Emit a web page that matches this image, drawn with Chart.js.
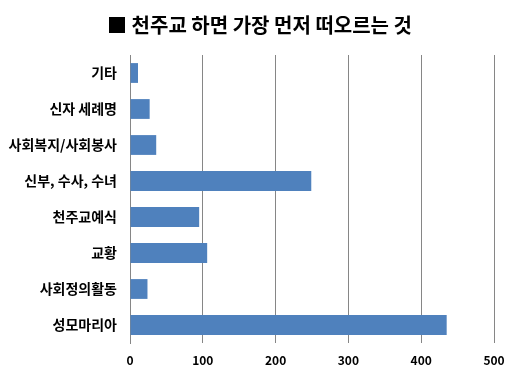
<!DOCTYPE html>
<html>
<head>
<meta charset="utf-8">
<script src="https://cdn.jsdelivr.net/npm/chart.js@4"></script>
<style>
  body { margin: 0; background: #fff; }
  #wrap { width: 519px; height: 377px; }
</style>
</head>
<body>
<div id="wrap"><canvas id="myChart" width="519" height="377"></canvas></div>
<script>
// data
const categories = ['기타', '신자 세례명', '사회복지/사회봉사', '신부, 수사, 수녀', '천주교예식', '교황', '사회정의활동', '성모마리아'];
const counts = [11, 27, 36, 249, 95, 106, 24, 435];
const xTicks = [0, 100, 200, 300, 400, 500];

const labelFont = { family: '"Noto Sans CJK KR", sans-serif', size: 14, weight: 'bold' };

const ctx = document.getElementById('myChart');

// title in the original sits centred on the whole picture, not on the padded area
const centreTitle = {
  id: 'centreTitle',
  afterLayout(chart) {
    if (chart.titleBlock) {
      chart.titleBlock.left = 0;
      chart.titleBlock.right = chart.width;
    }
  }
};

new Chart(ctx, {
  type: 'bar',
  data: {
    labels: categories,
    datasets: [{
      data: counts,
      backgroundColor: '#4F81BD',
      barPercentage: 0.55,
      categoryPercentage: 1
    }]
  },
  plugins: [centreTitle],
  options: {
    indexAxis: 'y',
    responsive: false,
    animation: false,
    layout: { padding: { left: 0, right: 25, top: 0, bottom: 0 } },
    plugins: {
      legend: { display: false },
      tooltip: { enabled: false },
      title: {
        display: true,
        text: '■ 천주교 하면 가장 먼저 떠오르는 것',
        color: '#000',
        font: { family: '"Noto Sans CJK KR", sans-serif', size: 20, weight: 'bold' },
        padding: { top: 13, bottom: 18 }
      }
    },
    scales: {
      x: {
        min: 0,
        max: 500,
        afterBuildTicks: (scale) => { scale.ticks = xTicks.map(v => ({ value: v })); },
        afterFit: (scale) => { scale.height = 34; },
        grid: { color: '#868686', drawTicks: false },
        border: { display: false },
        ticks: { color: '#000', padding: 10, font: { family: '"Noto Sans CJK KR", sans-serif', size: 12, weight: 'bold' } }
      },
      y: {
        afterFit: (scale) => { scale.width = 130; },
        grid: { display: false, drawTicks: false },
        border: { display: true, color: '#868686' },
        ticks: { color: '#000', padding: 13, font: labelFont }
      }
    }
  }
});
</script>
</body>
</html>
